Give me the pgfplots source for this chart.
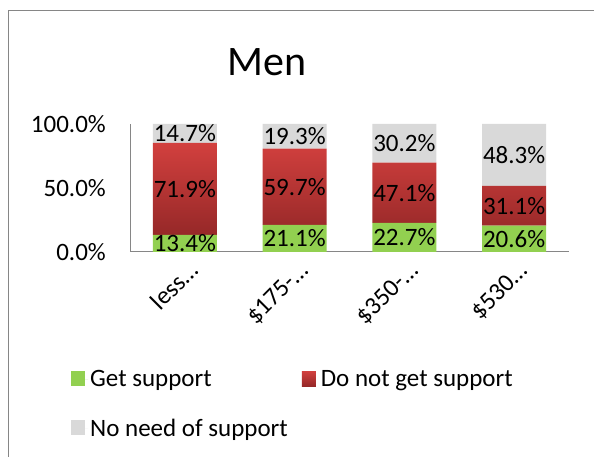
\documentclass[border=0pt]{standalone}
\usepackage{pgfplots}
\pgfplotsset{compat=1.18}
\usepackage{fontspec}
\setmainfont{Carlito}
\definecolor{cgreen}{RGB}{146,208,80}
\definecolor{credtop}{RGB}{210,64,62}
\definecolor{credbot}{RGB}{150,40,40}
\definecolor{cgray}{RGB}{217,217,217}
\definecolor{cframe}{RGB}{134,134,134}
\pgfplotsset{
  common/.style={
    at={(130bp,205bp)}, anchor=south west,
    scale only axis, width=439bp, height=128bp,
    xmin=-0.5, xmax=3.5, ymin=0, ymax=100,
  }
}
\begin{document}
\begin{tikzpicture}[x=1bp,y=1bp]
\useasboundingbox (0,0) rectangle (594,457);
\draw[cframe, line width=1.5bp] (8.5,-10) -- (8.5,446.5) -- (610,446.5);
\node[anchor=base, inner sep=0pt, font=\fontsize{42bp}{50bp}\selectfont] at (267,381) {Men};
\begin{axis}[
  common,
  ybar stacked, bar width=64bp,
  xtick={0,1,2,3},
  xticklabels={less…,\$175-…,\$350-…,\$530…},
  ytick={0,50,100},
  yticklabel={\pgfmathprintnumber[fixed,fixed zerofill,precision=1]{\tick}\%},
  /pgf/number format/assume math mode=true,
  axis x line=bottom, axis y line=left,
  axis line style={-, draw=cframe, line width=1bp},
  major tick length=0pt,
  font=\fontsize{25bp}{30bp}\selectfont,
  yticklabel style={inner sep=0pt, xshift=-24bp},
  xticklabel style={inner sep=0pt, xshift=15bp, yshift=-20bp, rotate=45, anchor=base east},
  legend columns=2,
  legend cell align=left,
  legend style={at={(-0.1344,-0.906)}, anchor=north west, draw=none, fill=none, inner sep=0pt,
    font=\fontsize{25bp}{30bp}\selectfont, row sep=27bp,
    /tikz/every even column/.append style={column sep=12bp}},
  legend image code/.code={\fill[#1] (0bp,-7bp) rectangle (14bp,8bp); \path (0bp,0bp) -- (17bp,0bp);},
]
\addplot[fill=cgreen, draw=none] coordinates {(0,13.4) (1,21.1) (2,22.7) (3,20.6)};
\addplot[top color=credtop, bottom color=credbot, draw=none] coordinates {(0,71.9) (1,59.7) (2,47.1) (3,31.1)};
\addplot[fill=cgray, draw=none] coordinates {(0,14.7) (1,19.3) (2,30.2) (3,48.3)};
\legend{Get support, Do not get support, No need of support}
\end{axis}
\begin{axis}[
  common, axis lines=none,
  point meta=explicit symbolic,
  nodes near coords={\pgfplotspointmeta\%},
  every node near coord/.append style={anchor=center, inner sep=0pt, font=\fontsize{25bp}{30bp}\selectfont},
]
% labels at the middle of each stacked segment
\addplot[draw=none, mark=none] coordinates {(0,6.7) [13.4] (1,10.55) [21.1] (2,11.35) [22.7] (3,10.3) [20.6]};
\addplot[draw=none, mark=none] coordinates {(0,49.35) [71.9] (1,50.95) [59.7] (2,46.25) [47.1] (3,36.15) [31.1]};
\addplot[draw=none, mark=none] coordinates {(0,92.65) [14.7] (1,90.45) [19.3] (2,84.9) [30.2] (3,75.85) [48.3]};
\end{axis}
\end{tikzpicture}
\end{document}
